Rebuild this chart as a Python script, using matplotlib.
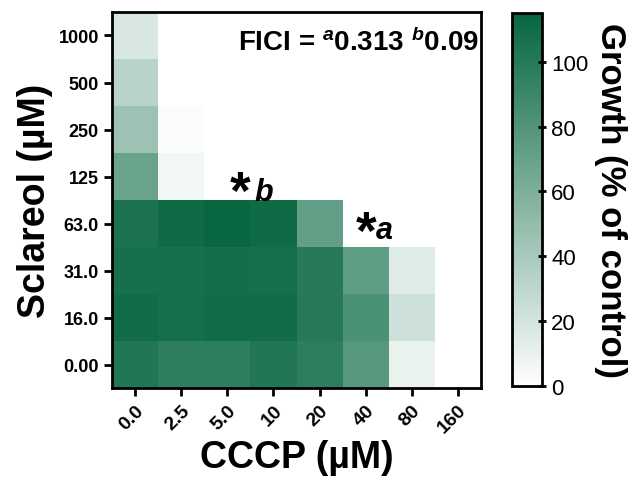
import matplotlib.pyplot as plt
import numpy as np
from matplotlib.colors import LinearSegmentedColormap

plt.rcParams['font.family'] = ['Liberation Sans', 'DejaVu Sans']
plt.rcParams['mathtext.fontset'] = 'custom'
plt.rcParams['mathtext.rm'] = 'Liberation Sans:bold'
plt.rcParams['mathtext.it'] = 'Liberation Sans:bold:italic'
plt.rcParams['mathtext.bf'] = 'Liberation Sans:bold'

# Concentrações
cccp = ['0.0', '2.5', '5.0', '10', '20', '40', '80', '160']
sclareol = ['0.00', '16.0', '31.0', '63.0', '125', '250', '500', '1000']

# Crescimento (% do controle), linhas de baixo (0.00) para cima (1000)
crescimento = np.array([
    [102, 97, 97, 102, 97, 78, 10, 0],
    [110, 108, 110, 110, 100, 83, 23, 0],
    [107, 107, 109, 108, 100, 74, 15, 0],
    [106, 111, 114, 111, 72, 0, 0, 0],
    [69, 6, 0, 0, 0, 0, 0, 0],
    [46, 2, 0, 0, 0, 0, 0, 0],
    [33, 0, 0, 0, 0, 0, 0, 0],
    [18, 0, 0, 0, 0, 0, 0, 0],
])

cmap = LinearSegmentedColormap.from_list('verde', ['#ffffff', '#06663f'])

fig = plt.figure(figsize=(6.38, 4.81), dpi=100)
ax = fig.add_axes([0.1755, 0.191, 0.5785, 0.782])
cax = fig.add_axes([0.8025, 0.195, 0.047, 0.776])

im = ax.pcolormesh(crescimento, cmap=cmap, vmin=0, vmax=115)

ax.set_xticks(np.arange(len(cccp)) + 0.5)
ax.set_xticklabels(cccp, rotation=45, ha='right', rotation_mode='anchor',
                   fontsize=14, fontweight='bold')
ax.set_yticks(np.arange(len(sclareol)) + 0.5)
ax.set_yticklabels(sclareol, fontsize=13, fontweight='bold')
ax.tick_params(width=2, length=6)
for s in ax.spines.values():
    s.set_linewidth(2)

ax.set_xlabel('CCCP (µM)', fontsize=27, fontweight='bold', labelpad=2)
ax.set_ylabel('Sclareol (µM)', fontsize=27, fontweight='bold', labelpad=4)

ax.text(0.995, 0.92, r'FICI = $^{a}$0.313 $^{b}$0.09', transform=ax.transAxes,
        ha='right', va='center', fontsize=20, fontweight='bold')

# asteriscos
ax.text(2.78, 4.13, '*', fontsize=38, fontweight='bold', ha='center', va='center')
ax.text(3.3, 4.18, 'b', fontsize=22, fontweight='bold', style='italic',
        ha='center', va='center')
ax.text(5.5, 3.28, '*', fontsize=38, fontweight='bold', ha='center', va='center')
ax.text(5.9, 3.36, 'a', fontsize=22, fontweight='bold', style='italic',
        ha='center', va='center')

cb = fig.colorbar(im, cax=cax)
cb.set_ticks([0, 20, 40, 60, 80, 100])
cb.ax.tick_params(labelsize=16, width=2, length=6, direction='inout')
cb.outline.set_linewidth(2)
cb.set_label('Growth (% of control)', rotation=270, fontsize=25,
             fontweight='bold', labelpad=28)

plt.savefig('out.png', dpi=100)
